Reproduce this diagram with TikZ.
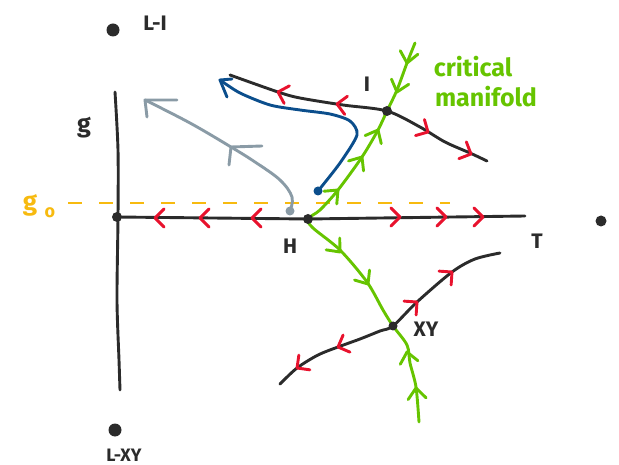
\documentclass[tikz,border=0pt]{standalone}
\usepackage{fontspec}
\setsansfont{Fira Sans}
\usetikzlibrary{calc}
\definecolor{ink}{HTML}{2B2B2B}
\definecolor{rred}{HTML}{E8122D}
\definecolor{mgreen}{HTML}{66C400}
\definecolor{mblue}{HTML}{0B4E8C}
\definecolor{mgray}{HTML}{8A9BA6}
\definecolor{morange}{HTML}{F7BA0F}
\tikzset{
  curve/.style={ink, line width=2.9pt, line cap=round, line join=round},
  gcurve/.style={mgreen, line width=2.9pt, line cap=round, line join=round},
  chevline/.style={line width=2.9pt, line cap=round, line join=round},
  dotp/.style={circle, fill=ink, inner sep=0pt, minimum size=#1},
  lbl/.style={ink, font=\sffamily\bfseries\fontsize{21}{23}\selectfont, inner sep=0pt},
  glbl/.style={mgreen, font=\sffamily\bfseries\fontsize{25}{27}\selectfont, inner sep=0pt},
}
% #1 colour, #2 tip, #3 point behind the tip, #4 barb length, #5 barb angle
\newcommand\mychev[5]{%
  \draw[#1, chevline] let \p1=($(#2)-(#3)$), \n1={atan2(\y1,\x1)} in
    ($(#2)+(\n1+#5:#4)$) -- (#2) -- ($(#2)+(\n1-#5:#4)$);}
\newcommand\redchev[2]{\mychev{rred}{#1}{#2}{13pt}{135}}
\newcommand\grnchev[2]{\mychev{mgreen}{#1}{#2}{14pt}{140}}
\begin{document}
\begin{tikzpicture}[x=1pt,y=-1pt]
\useasboundingbox (0,0) rectangle (619,465);
% main points
\coordinate (O) at (117,217);
\coordinate (H) at (308,219);
\coordinate (I) at (387,111);
\coordinate (XY) at (393,326);
\coordinate (Tend) at (525,216);
\coordinate (gtop) at (115,92);
\coordinate (gbot) at (120,390);
\coordinate (Ileft) at (230,75);
\coordinate (Iright) at (487,161);
\coordinate (XYleft) at (280,384);
\coordinate (XYright) at (500,253);
\coordinate (Gtop) at (415,43);
\coordinate (Gbot) at (419,422);
\coordinate (g0a) at (68,203);
\coordinate (g0b) at (450,203);
% orange dashed g0 line
\draw[morange, line width=2.9pt, dash pattern=on 14pt off 17pt] (g0a) -- (g0b);
% g axis
\draw[curve] plot[smooth] coordinates {(gtop) (118,150) (118,217) (117,300) (119,360) (gbot)};
% T axis
\draw[curve] (O) -- (H) -- (Tend);
\foreach \xx in {155,200,252} {\redchev{\xx,218}{\xx+10,218}}
\foreach \xx in {400,446,483} {\redchev{\xx,217}{\xx-10,217}}
% I curve
\draw[curve] plot[smooth] coordinates {(Ileft) (278,92) (300,98) (343,105) (I) (420,127) (445,142) (470,153) (Iright)};
\redchev{278,92}{288,95}
\redchev{337,104}{347,105.5}
\redchev{428,132}{419,127}
\redchev{471,154}{462,150}
% XY curve
\draw[curve] plot[smooth] coordinates {(XYleft) (297,368) (318,355) (338,347) (360,339) (380,331) (XY) (417,302) (452,272) (475,259) (XYright)};
\redchev{338,347}{348,343}
\redchev{297,368}{305,362}
\redchev{417,302}{409,309}
\redchev{452,272}{444,279}
% critical manifold (green)
\draw[gcurve] plot[smooth] coordinates {(Gtop) (407,63) (397,90) (I) (378,130) (362,157) (338,190) (320,210) (H) (313,228) (340,250) (367,282) (383,310) (XY) (407,345) (410,363) (416,387) (Gbot)};
\grnchev{407,63}{409,53}
\grnchev{397,92}{400,82}
\grnchev{378,130}{373,140}
\grnchev{362,157}{356,166}
\grnchev{338,190}{330,198}
\grnchev{340,252}{333,244}
\grnchev{368,284}{362,275}
\grnchev{407,352}{409,362}
\grnchev{416,388}{417,398}
% blue trajectory
\node[circle, fill=mblue, inner sep=0pt, minimum size=9pt] (bstart) at (318,191) {};
\coordinate (btip) at (220,80);
\draw[mblue, chevline] plot[smooth, tension=0.45] coordinates {(bstart.center) (340,163) (357,135) (350,121) (330,114) (300,110) (270,105) (240,93) (btip)};
\draw[mblue, chevline] (232,79) -- (btip) -- (227,97);
% gray trajectory
\node[circle, fill=mgray, inner sep=0pt, minimum size=9pt] (gstart) at (290,211) {};
\coordinate (gtip) at (145,100);
\coordinate (gmid) at (231,147);
\draw[mgray, chevline] plot[smooth, tension=0.6] coordinates {(gstart.center) (292,197) (280,180) (255,162) (gmid) (190,123) (gtip)};
\draw[mgray, chevline] (262,146) -- (gmid) -- (229,165);
\draw[mgray, chevline] (177,100) -- (gtip) -- (147,117);
% dots
\node[dotp=13pt] (LI) at (113,30) {};
\node[dotp=10pt] (Odot) at (O) {};
\node[dotp=10pt] (Hdot) at (H) {};
\node[dotp=10pt] (Idot) at (I) {};
\node[dotp=9pt] (XYdot) at (XY) {};
\node[dotp=11pt] (Rdot) at (601,221) {};
\node[dotp=13pt] (LXY) at (115,430) {};
% labels
\node[lbl] (tLI) at (155,23) {L-I};
\node[lbl, font=\sffamily\bfseries\fontsize{25}{27}\selectfont] (tg) at (84,128) {g};
\node[morange, font=\sffamily\bfseries\fontsize{26}{28}\selectfont, inner sep=0pt] (tg0) at (30,205) {g};
\node[morange, font=\sffamily\bfseries\fontsize{18}{20}\selectfont, inner sep=0pt] (tg0o) at (50,213) {o};
\node[lbl] (tH) at (290,246) {H};
\node[lbl] (tT) at (537,241) {T};
\node[lbl] (tI) at (367,84) {I};
\node[lbl] (tXY) at (426,329) {XY};
\node[lbl, font=\sffamily\bfseries\fontsize{18}{20}\selectfont] (tLXY) at (124,455) {L-XY};
\node[glbl] (tcrit) at (473,67) {critical};
\node[glbl] (tman) at (486,97) {manifold};
\end{tikzpicture}
\end{document}
